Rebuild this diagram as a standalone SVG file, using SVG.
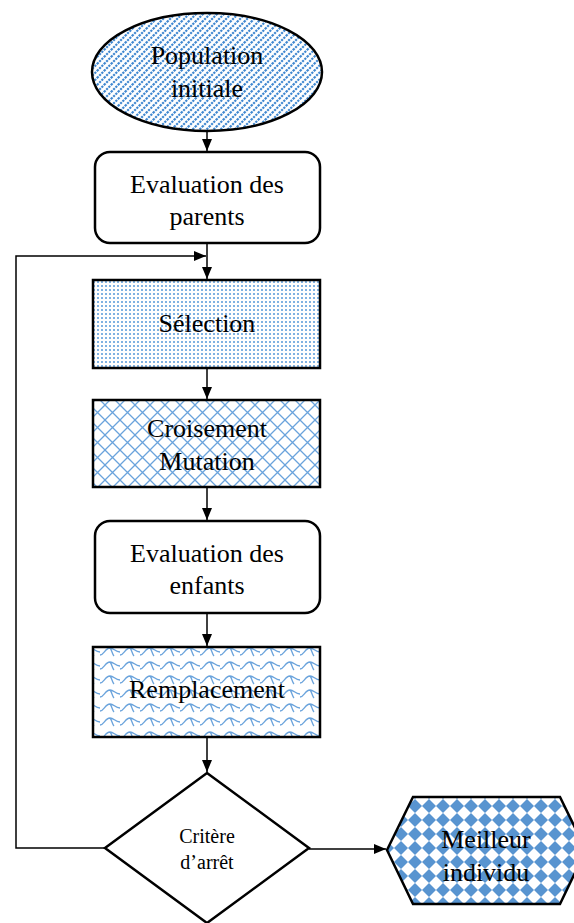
<svg xmlns="http://www.w3.org/2000/svg" width="574" height="923" viewBox="0 0 574 923">
<style>
.shape{stroke:#000;stroke-width:2.5}
.t{font-family:"Liberation Serif","Times New Roman",serif;font-size:26px;fill:#000;text-anchor:middle}
.ts{font-family:"Liberation Serif","Times New Roman",serif;font-size:20px;fill:#000;text-anchor:middle}
.c{fill:none;stroke:#000;stroke-width:1.5}
</style>
<defs>
<pattern id="stripes" width="7" height="7" patternUnits="userSpaceOnUse">
<rect width="7" height="7" fill="#fff"/>
<path d="M-1,8 L8,-1 M-1,1 L1,-1 M6,8 L8,6" stroke="#3f87d0" stroke-width="2.2" stroke-dasharray="2.2,1"/>
</pattern>
<pattern id="dots" width="4" height="4" patternUnits="userSpaceOnUse">
<rect width="4" height="4" fill="#fff"/>
<rect x="1" y="1" width="2" height="2" fill="#80b2e2"/>
</pattern>
<pattern id="lattice" width="15" height="15" patternUnits="userSpaceOnUse">
<rect width="15" height="15" fill="#fff"/>
<path d="M0,0 L15,15 M15,0 L0,15" stroke="#6aa3dc" stroke-width="1.3"/>
</pattern>
<pattern id="scales" width="20" height="14" patternUnits="userSpaceOnUse">
<rect width="20" height="14" fill="#fff"/>
<path d="M0,11 C4,11 5,4 10,4 C14,4 15,8 20,8 M0,-3 C4,-3 5,-10 10,-10 M0,25 C4,25 5,18 10,18 C14,18 15,22 20,22 M10,4 C12,6 12,10 14,12" fill="none" stroke="#6aa3dc" stroke-width="1.3"/>
</pattern>
<pattern id="diamonds" width="14" height="14" patternUnits="userSpaceOnUse" x="2" y="1">
<rect width="14" height="14" fill="#fff"/>
<polygon points="7,0 14,7 7,14 0,7" fill="#5894d0"/>
</pattern>
<marker id="arr" markerWidth="12" markerHeight="10" refX="12" refY="5" orient="auto" markerUnits="userSpaceOnUse">
<path d="M0,0 L12,5 L0,10 Z" fill="#000"/>
</marker>
</defs>

<g id="connectors">
<line class="c" x1="207" y1="130" x2="207" y2="151" marker-end="url(#arr)"/>
<line class="c" x1="207" y1="244" x2="207" y2="279" marker-end="url(#arr)"/>
<polyline class="c" points="105,848 16,848 16,256 206,256" marker-end="url(#arr)"/>
<line class="c" x1="207" y1="369" x2="207" y2="399" marker-end="url(#arr)"/>
<line class="c" x1="207" y1="488" x2="207" y2="520" marker-end="url(#arr)"/>
<line class="c" x1="207" y1="614" x2="207" y2="646" marker-end="url(#arr)"/>
<line class="c" x1="207" y1="738" x2="207" y2="772" marker-end="url(#arr)"/>
<line class="c" x1="309" y1="849" x2="386" y2="849" marker-end="url(#arr)"/>
</g>

<g id="population">
<ellipse class="shape" cx="207" cy="72" rx="115" ry="59" fill="url(#stripes)"/>
<text class="t" x="207" y="64">Population</text>
<text class="t" x="207" y="97">initiale</text>
</g>

<g id="eval-parents">
<rect class="shape" x="95" y="152" width="225" height="91" rx="15" fill="#fff"/>
<text class="t" x="207" y="193">Evaluation des</text>
<text class="t" x="207" y="225">parents</text>
</g>

<g id="selection">
<rect class="shape" x="93" y="280" width="227" height="88" fill="url(#dots)"/>
<text class="t" x="207" y="332">Sélection</text>
</g>

<g id="croisement">
<rect class="shape" x="93" y="400" width="227" height="87" fill="url(#lattice)"/>
<text class="t" x="207" y="437">Croisement</text>
<text class="t" x="207" y="470">Mutation</text>
</g>

<g id="eval-enfants">
<rect class="shape" x="95" y="521" width="225" height="92" rx="15" fill="#fff"/>
<text class="t" x="207" y="562">Evaluation des</text>
<text class="t" x="207" y="594">enfants</text>
</g>

<g id="remplacement">
<rect class="shape" x="93" y="647" width="227" height="90" fill="url(#scales)"/>
<text class="t" x="207" y="698">Remplacement</text>
</g>

<g id="critere">
<polygon class="shape" points="207,773 309,848 207,923 105,848" fill="#fff"/>
<text class="ts" x="207" y="843">Critère</text>
<text class="ts" x="207" y="869">d’arrêt</text>
</g>

<g id="meilleur">
<polygon class="shape" points="387,850 413,797 560,797 586,850 560,904 413,904" fill="url(#diamonds)"/>
<text class="t" x="486" y="848">Meilleur</text>
<text class="t" x="486" y="881">individu</text>
</g>
</svg>
